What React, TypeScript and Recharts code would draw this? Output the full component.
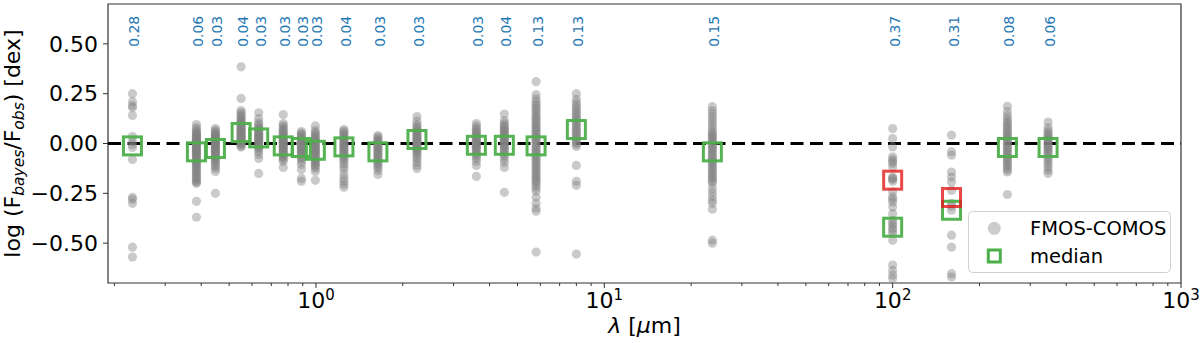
import React from "react";
import {
  ScatterChart,
  Scatter,
  XAxis,
  YAxis,
  ReferenceLine,
  ReferenceArea,
  Legend,
} from "recharts";

// ---------- data ----------
const wavelengths = [0.231, 0.385, 0.448, 0.55, 0.633, 0.77, 0.89, 0.995, 1.25, 1.64, 2.24, 3.6, 4.5, 5.8, 8.0, 23.7, 100, 160, 250, 346];

const scatterNUV = [0.25, 0.21, 0.19, 0.18, 0.14, 0.035, 0.01, -0.005, -0.02, -0.08, -0.27, -0.28, -0.3, -0.52, -0.57];
const scatterU = [0.095, 0.08, 0.07, 0.06, 0.055, 0.05, 0.045, 0.04, 0.035, 0.03, 0.025, 0.02, 0.018, 0.012, 0.008, 0.004, 0.0, -0.004, -0.008, -0.013, -0.018, -0.022, -0.027, -0.031, -0.036, -0.04, -0.045, -0.05, -0.055, -0.06, -0.066, -0.072, -0.078, -0.085, -0.09, -0.097, -0.104, -0.11, -0.118, -0.125, -0.133, -0.14, -0.148, -0.156, -0.165, -0.172, -0.18, -0.188, -0.195, -0.2, -0.29, -0.37];
const scatterB = [0.075, 0.065, 0.058, 0.05, 0.045, 0.04, 0.034, 0.03, 0.025, 0.02, 0.016, 0.012, 0.008, 0.004, 0.0, -0.004, -0.009, -0.013, -0.018, -0.022, -0.027, -0.032, -0.037, -0.042, -0.048, -0.053, -0.06, -0.066, -0.072, -0.08, -0.088, -0.095, -0.105, -0.115, -0.125, -0.14, -0.25];
const scatterV = [0.385, 0.226, 0.165, 0.155, 0.145, 0.135, 0.128, 0.12, 0.113, 0.106, 0.1, 0.094, 0.088, 0.082, 0.076, 0.07, 0.065, 0.06, 0.055, 0.05, 0.045, 0.04, 0.035, 0.03, 0.025, 0.02, 0.015, 0.01, 0.005, 0.0, -0.006, -0.012, -0.018];
const scatterR = [0.154, 0.125, 0.105, 0.095, 0.085, 0.078, 0.07, 0.064, 0.058, 0.052, 0.046, 0.04, 0.035, 0.03, 0.025, 0.02, 0.015, 0.01, 0.005, 0.0, -0.006, -0.012, -0.02, -0.028, -0.04, -0.055, -0.075, -0.15];
const scatterI = [0.145, 0.1, 0.09, 0.08, 0.072, 0.064, 0.057, 0.05, 0.044, 0.038, 0.032, 0.026, 0.02, 0.015, 0.01, 0.005, 0.0, -0.005, -0.01, -0.015, -0.02, -0.026, -0.032, -0.038, -0.044, -0.05, -0.057, -0.064, -0.072, -0.08, -0.09, -0.12];
const scatterZ = [0.06, 0.052, 0.045, 0.038, 0.03, 0.024, 0.018, 0.012, 0.006, 0.0, -0.006, -0.012, -0.018, -0.024, -0.03, -0.036, -0.042, -0.048, -0.055, -0.062, -0.07, -0.078, -0.09, -0.105, -0.13, -0.175, -0.19];
const scatterY = [0.088, 0.065, 0.055, 0.046, 0.038, 0.03, 0.023, 0.016, 0.01, 0.004, -0.002, -0.008, -0.014, -0.02, -0.026, -0.032, -0.038, -0.044, -0.05, -0.057, -0.064, -0.071, -0.078, -0.085, -0.093, -0.1, -0.108, -0.116, -0.125, -0.14, -0.185];
const scatterJ = [0.07, 0.062, 0.054, 0.046, 0.038, 0.031, 0.024, 0.017, 0.01, 0.004, -0.002, -0.008, -0.014, -0.02, -0.026, -0.032, -0.038, -0.045, -0.052, -0.06, -0.068, -0.077, -0.087, -0.1, -0.115, -0.13, -0.155, -0.175, -0.19, -0.205, -0.22];
const scatterH = [0.04, 0.032, 0.024, 0.016, 0.009, 0.002, -0.005, -0.012, -0.019, -0.026, -0.033, -0.04, -0.047, -0.054, -0.061, -0.068, -0.076, -0.084, -0.093, -0.102, -0.112, -0.122, -0.135, -0.155];
const scatterK = [0.135, 0.112, 0.095, 0.085, 0.076, 0.068, 0.06, 0.053, 0.046, 0.04, 0.033, 0.027, 0.021, 0.015, 0.009, 0.003, -0.003, -0.009, -0.015, -0.022, -0.03, -0.038, -0.047, -0.057, -0.068, -0.08, -0.095, -0.11, -0.126];
const scatterI1 = [0.1, 0.088, 0.077, 0.068, 0.06, 0.052, 0.045, 0.038, 0.031, 0.025, 0.019, 0.013, 0.007, 0.001, -0.005, -0.011, -0.017, -0.023, -0.03, -0.037, -0.045, -0.054, -0.064, -0.075, -0.09, -0.11, -0.165];
const scatterI2 = [0.148, 0.115, 0.102, 0.092, 0.083, 0.075, 0.067, 0.06, 0.053, 0.046, 0.04, 0.033, 0.027, 0.021, 0.015, 0.009, 0.003, -0.003, -0.01, -0.017, -0.025, -0.033, -0.042, -0.052, -0.063, -0.078, -0.095, -0.12, -0.245];
const scatterI3 = [0.31, 0.245, 0.225, 0.21, 0.198, 0.186, 0.175, 0.164, 0.153, 0.142, 0.132, 0.122, 0.112, 0.102, 0.092, 0.083, 0.074, 0.065, 0.056, 0.047, 0.038, 0.029, 0.02, 0.011, 0.002, -0.007, -0.016, -0.025, -0.034, -0.043, -0.052, -0.061, -0.07, -0.08, -0.09, -0.1, -0.11, -0.12, -0.13, -0.14, -0.15, -0.16, -0.17, -0.18, -0.19, -0.2, -0.212, -0.225, -0.24, -0.27, -0.3, -0.325, -0.34, -0.545];
const scatterI4 = [0.25, 0.222, 0.205, 0.192, 0.18, 0.168, 0.157, 0.146, 0.135, 0.125, 0.115, 0.105, 0.095, 0.085, 0.076, 0.067, 0.058, 0.049, 0.04, 0.031, 0.022, 0.013, 0.004, -0.005, -0.015, -0.11, -0.19, -0.21, -0.555];
const scatterM24 = [0.185, 0.165, 0.15, 0.135, 0.12, 0.105, 0.09, 0.075, 0.062, 0.052, 0.043, 0.034, 0.025, 0.016, 0.007, -0.002, -0.011, -0.02, -0.029, -0.038, -0.047, -0.056, -0.065, -0.074, -0.083, -0.092, -0.101, -0.11, -0.12, -0.13, -0.14, -0.15, -0.16, -0.17, -0.18, -0.19, -0.2, -0.225, -0.245, -0.265, -0.285, -0.3, -0.33, -0.485, -0.5];
const scatterP100 = [0.075, 0.025, -0.017, -0.067, -0.08, -0.09, -0.1, -0.118, -0.168, -0.175, -0.18, -0.19, -0.243, -0.268, -0.28, -0.293, -0.319, -0.352, -0.385, -0.4, -0.41, -0.425, -0.436, -0.452, -0.486, -0.61, -0.637, -0.66, -0.678];
const scatterP160 = [0.042, -0.042, -0.059, -0.143, -0.168, -0.193, -0.235, -0.3, -0.315, -0.335, -0.46, -0.52, -0.653, -0.67];
const scatterS250 = [0.187, 0.16, 0.14, 0.125, 0.113, 0.102, 0.092, 0.082, 0.072, 0.062, 0.053, 0.044, 0.035, 0.026, 0.017, 0.008, -0.001, -0.01, -0.019, -0.028, -0.037, -0.046, -0.055, -0.064, -0.073, -0.082, -0.092, -0.102, -0.112, -0.122, -0.133, -0.143, -0.256];
const scatterS350 = [0.108, 0.08, 0.065, 0.054, 0.045, 0.036, 0.028, 0.02, 0.012, 0.004, -0.004, -0.012, -0.02, -0.028, -0.036, -0.045, -0.055, -0.066, -0.078, -0.09, -0.105, -0.12, -0.135, -0.15];

const scatterByBand = [scatterNUV, scatterU, scatterB, scatterV, scatterR, scatterI, scatterZ, scatterY, scatterJ, scatterH, scatterK, scatterI1, scatterI2, scatterI3, scatterI4, scatterM24, scatterP100, scatterP160, scatterS250, scatterS350];

const medianValues = [-0.012, -0.042, -0.025, 0.055, 0.028, -0.012, -0.02, -0.034, -0.017, -0.042, 0.02, -0.009, -0.009, -0.012, 0.07, -0.042, -0.42, -0.335, -0.02, -0.02];
const redWavelengths = [100, 160];
const redValues = [-0.184, -0.271];

const scatterLabels = ["0.28", "0.06", "0.03", "0.04", "0.03", "0.03", "0.03", "0.03", "0.04", "0.03", "0.03", "0.03", "0.04", "0.13", "0.13", "0.15", "0.37", "0.31", "0.08", "0.06"];
const labelLevel = 0.485;

const yTicks = [-0.5, -0.25, 0, 0.25, 0.5];
const xMajorTicks = [1, 10, 100, 1000];
const xMinorTicks = [0.2, 0.3, 0.4, 0.5, 0.6, 0.7, 0.8, 0.9, 2, 3, 4, 5, 6, 7, 8, 9, 20, 30, 40, 50, 60, 70, 80, 90, 200, 300, 400, 500, 600, 700, 800, 900];

// ---------- derived tables ----------
const pointData = scatterByBand.flatMap((vals, i) => vals.map((v) => ({ x: wavelengths[i], y: v })));
const medianData = wavelengths.map((w, i) => ({ x: w, y: medianValues[i] }));
const redData = redWavelengths.map((w, i) => ({ x: w, y: redValues[i] }));
const labelData = wavelengths.map((w, i) => ({ x: w, y: labelLevel, t: scatterLabels[i] }));

const FONT = "DejaVu Sans";
const GREEN = "#4daf4a";
const RED = "#e41a1c";

const GrayDot = (p: any) => (
  <circle cx={p.cx} cy={p.cy} r={4.6} fill="#808080" fillOpacity={0.42} />
);
const GreenSquare = (p: any) => (
  <rect x={p.cx - 9} y={p.cy - 9} width={18} height={18} fill="none" stroke={GREEN} strokeOpacity={0.95} strokeWidth={3} />
);
const RedSquare = (p: any) => (
  <rect x={p.cx - 9} y={p.cy - 9} width={18} height={18} fill="none" stroke={RED} strokeOpacity={0.8} strokeWidth={3} />
);
const RotLabel = (p: any) => (
  <g transform={`translate(${p.cx + 7}, ${p.cy}) rotate(-90)`}>
    <text
      x={0}
      y={0}
      textAnchor="start"
      textLength={31}
      lengthAdjust="spacingAndGlyphs"
      style={{ fontSize: "14px", fontFamily: FONT }}
      fill="#1f77b4"
    >
      {p.payload.t}
    </text>
  </g>
);

const XTick = (p: any) => {
  const v = p.payload.value;
  const lg = Math.log10(v);
  const e = Math.round(lg);
  const major = Math.abs(lg - e) < 1e-6;
  return (
    <g>
      <line x1={p.x} x2={p.x} y1={p.y} y2={p.y + (major ? 5 : 3)} stroke="#333" strokeWidth={1} />
      {major && (
        <text x={p.x} y={p.y + 25} textAnchor="middle" fontSize={22} fontFamily={FONT} fill="#000">
          10
          <tspan dy={-8} fontSize={15}>{e}</tspan>
        </text>
      )}
    </g>
  );
};

const fmtY = (v: number) => (v < 0 ? "\u2212" + Math.abs(v).toFixed(2) : v.toFixed(2));

const YLabel = (p: any) => {
  const vb = p.viewBox || { x: 0, y: 4, width: 108, height: 279 };
  const cx = vb.x + 20;
  const cy = vb.y + vb.height / 2;
  return (
    <text x={cx} y={cy} transform={`rotate(-90, ${cx}, ${cy})`} textAnchor="middle" fontSize={22} fontFamily={FONT} fill="#000">
      log (F
      <tspan dy={4} fontSize={15.5} fontStyle="italic">bayes</tspan>
      <tspan dy={-4}>/F</tspan>
      <tspan dy={4} fontSize={15.5} fontStyle="italic">obs</tspan>
      <tspan dy={-4}>) [dex]</tspan>
    </text>
  );
};

const XLabel = (p: any) => {
  const vb = p.viewBox || { x: 108, y: 283, width: 1073, height: 60 };
  const cx = vb.x + vb.width / 2;
  return (
    <text x={cx} y={vb.y + 50} textAnchor="middle" fontSize={22} fontFamily={FONT} fill="#000">
      <tspan fontStyle="italic">λ</tspan> [<tspan fontStyle="italic">μ</tspan>m]
    </text>
  );
};

const LegendBox = () => (
  <div style={{ width: 203, height: 62 }}>
    <svg width={203} height={62} style={{ display: "block" }}>
      <rect x={0.5} y={0.5} width={202} height={61} rx={4} ry={4} fill="#fff" fillOpacity={0.8} stroke="#d0d0d0" strokeWidth={1} />
      <circle cx={26.3} cy={17.3} r={6.5} fill="#808080" fillOpacity={0.4} />
      <text x={62} y={23.8} fontSize={19.5} fontFamily={FONT} fill="#000">FMOS-COMOS</text>
      <rect x={20.3} y={39} width={12} height={12} fill="none" stroke={GREEN} strokeWidth={3} />
      <text x={62} y={52.3} fontSize={19.5} fontFamily={FONT} fill="#000">median</text>
    </svg>
  </div>
);

export default function App() {
  return (
    <div style={{ position: "fixed", left: 0, top: 0, width: 1200, height: 343, background: "#fff" }}>
      <ScatterChart width={1200} height={343} margin={{ top: 4, right: 19, bottom: 0, left: 0 }}>
        <XAxis
          type="number"
          dataKey="x"
          scale="log"
          domain={[0.19, 1000]}
          allowDataOverflow
          ticks={[...xMajorTicks, ...xMinorTicks]}
          interval={0}
          tick={<XTick />}
          tickLine={false}
          tickSize={0}
          tickMargin={0}
          axisLine={false}
          height={60}
          label={<XLabel />}
        />
        <YAxis
          type="number"
          dataKey="y"
          domain={[-0.7, 0.7]}
          allowDataOverflow
          ticks={yTicks}
          interval={0}
          tickFormatter={fmtY}
          tick={{ fontSize: 22, fontFamily: FONT, fill: "#000" }}
          tickLine={{ stroke: "#333" }}
          tickSize={5}
          tickMargin={5}
          axisLine={false}
          width={108}
          label={<YLabel />}
        />
        <Scatter data={pointData} shape={<GrayDot />} isAnimationActive={false} />
        <ReferenceLine y={0} stroke="#000" strokeWidth={3.2} strokeDasharray="13 6.5" />
        <Scatter data={medianData} shape={<GreenSquare />} isAnimationActive={false} />
        <Scatter data={redData} shape={<RedSquare />} isAnimationActive={false} />
        <Scatter data={labelData} shape={<RotLabel />} isAnimationActive={false} />
        <ReferenceArea x1={0.19} x2={1000} y1={-0.7} y2={0.7} fill="none" stroke="#333" strokeWidth={1.2} />
        <Legend
          layout="vertical"
          align="center"
          verticalAlign="middle"
          wrapperStyle={{ left: 968, top: 211, width: 203, height: 62 }}
          content={<LegendBox />}
        />
      </ScatterChart>
    </div>
  );
}
